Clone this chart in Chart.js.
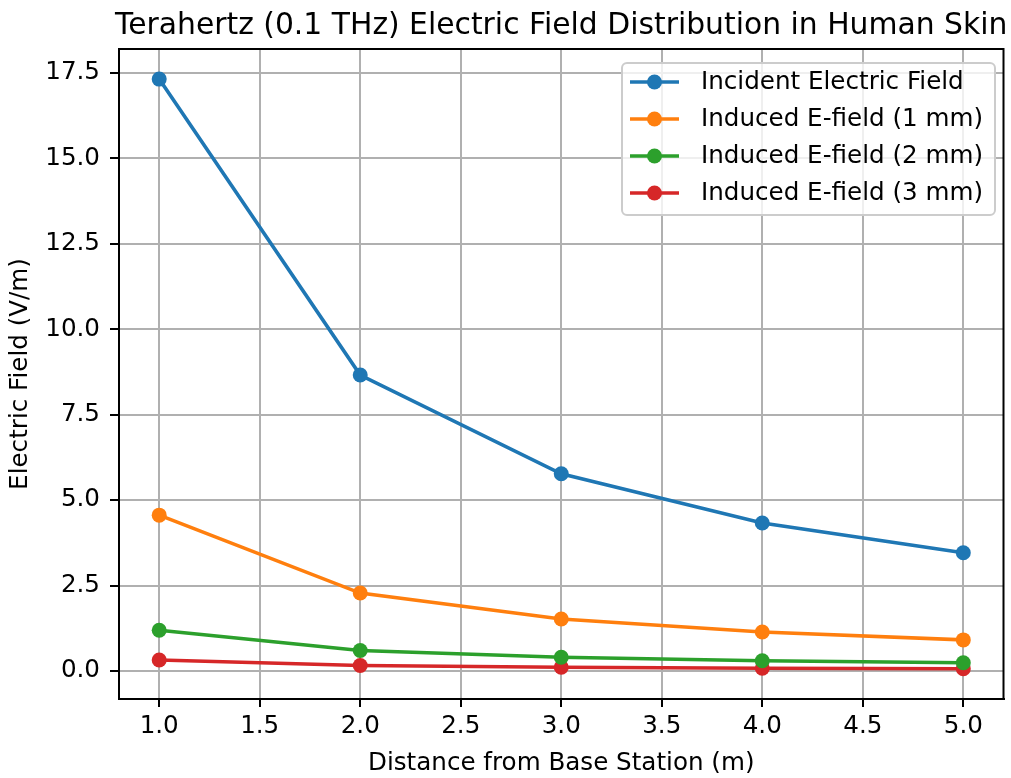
<!DOCTYPE html>
<html>
<head>
<meta charset="utf-8">
<script src="https://cdn.jsdelivr.net/npm/chart.js@4.4.1/dist/chart.umd.min.js"></script>
<style>
  body { margin: 0; background: #fff; }
  canvas { display: block; }
</style>
</head>
<body>
<canvas id="fieldChart" width="1011" height="778"></canvas>
<script>
const distances = [1.0, 2.0, 3.0, 4.0, 5.0];
const incident = [17.32, 8.66, 5.77, 4.33, 3.46];
const induced1mm = [4.56, 2.28, 1.52, 1.14, 0.91];
const induced2mm = [1.19, 0.60, 0.40, 0.30, 0.24];
const induced3mm = [0.32, 0.16, 0.107, 0.08, 0.064];

const xTicks = [1.0, 1.5, 2.0, 2.5, 3.0, 3.5, 4.0, 4.5, 5.0];
const yTicks = [0.0, 2.5, 5.0, 7.5, 10.0, 12.5, 15.0, 17.5];

const FONT = "'DejaVu Sans', sans-serif";
const SIZE = 24.6;
const ctx = document.getElementById("fieldChart").getContext("2d");

function series(label, values, color) {
    return {
        label: label,
        data: distances.map((d, i) => ({ x: d, y: values[i] })),
        borderColor: color,
        backgroundColor: color,
        borderWidth: 3.6,
        pointRadius: 7.5,
        pointHoverRadius: 7.5,
        pointBorderWidth: 0,
        tension: 0
    };
}

// frame, title and matplotlib-like legend
const decorations = {
    id: "decorations",
    afterDraw(chart) {
        const c = chart.ctx;
        const a = chart.chartArea;
        c.save();
        c.strokeStyle = "#000";
        c.lineWidth = 2;
        c.strokeRect(a.left, a.top, a.right - a.left, a.bottom - a.top);

        c.fillStyle = "#000";
        c.font = "29.8px " + FONT;
        c.textAlign = "center";
        c.textBaseline = "alphabetic";
        c.fillText("Terahertz (0.1 THz) Electric Field Distribution in Human Skin", (a.left + a.right) / 2, 34);

        // legend box
        const bx = 622, by = 63, bw = 373, bh = 152;
        c.beginPath();
        c.roundRect(bx, by, bw, bh, 5);
        c.fillStyle = "rgba(255,255,255,0.8)";
        c.fill();
        c.strokeStyle = "#cccccc";
        c.lineWidth = 2;
        c.stroke();
        c.font = SIZE + "px " + FONT;
        c.textAlign = "left";
        c.textBaseline = "middle";
        chart.data.datasets.forEach((ds, i) => {
            const y = 82 + i * 37;
            c.strokeStyle = ds.borderColor;
            c.lineWidth = 3.6;
            c.beginPath();
            c.moveTo(630, y);
            c.lineTo(679, y);
            c.stroke();
            c.fillStyle = ds.borderColor;
            c.beginPath();
            c.arc(654.5, y, 7.5, 0, Math.PI * 2);
            c.fill();
            c.fillStyle = "#000";
            c.fillText(ds.label, 701, y + 1);
        });
        c.restore();
    }
};

const chart = new Chart(ctx, {
    type: "line",
    data: {
        datasets: [
            series("Incident Electric Field", incident, "#1f77b4"),
            series("Induced E-field (1 mm)", induced1mm, "#ff7f0e"),
            series("Induced E-field (2 mm)", induced2mm, "#2ca02c"),
            series("Induced E-field (3 mm)", induced3mm, "#d62728")
        ]
    },
    options: {
        responsive: false,
        animation: false,
        layout: { padding: { top: 49, right: 4, left: 0, bottom: 0 } },
        plugins: {
            legend: { display: false },
            title: { display: false },
            tooltip: { enabled: false }
        },
        scales: {
            x: {
                type: "linear",
                min: 0.8,
                max: 5.2,
                afterBuildTicks: scale => { scale.ticks = xTicks.map(v => ({ value: v })); },
                afterFit: scale => { scale.height = 79; },
                ticks: {
                    callback: v => v.toFixed(1),
                    font: { family: FONT, size: SIZE },
                    color: "#000",
                    padding: 5,
                    maxRotation: 0
                },
                grid: { color: "#b0b0b0", lineWidth: 2, tickColor: "#000", tickLength: 8, tickWidth: 2 },
                border: { color: "#000", width: 2 },
                title: {
                    display: true,
                    text: "Distance from Base Station (m)",
                    font: { family: FONT, size: SIZE },
                    color: "#000",
                    padding: { top: 0, bottom: 0 }
                }
            },
            y: {
                min: -0.82,
                max: 18.2,
                afterBuildTicks: scale => { scale.ticks = yTicks.map(v => ({ value: v })); },
                afterFit: scale => { scale.width = 119; },
                ticks: {
                    callback: v => v.toFixed(1),
                    font: { family: FONT, size: SIZE },
                    color: "#000",
                    padding: 10
                },
                grid: { color: "#b0b0b0", lineWidth: 2, tickColor: "#000", tickLength: 9, tickWidth: 2 },
                border: { color: "#000", width: 2 },
                title: {
                    display: true,
                    text: "Electric Field (V/m)",
                    font: { family: FONT, size: SIZE },
                    color: "#000",
                    padding: { top: 6, bottom: 0 }
                }
            }
        }
    },
    plugins: [decorations]
});
</script>
</body>
</html>
